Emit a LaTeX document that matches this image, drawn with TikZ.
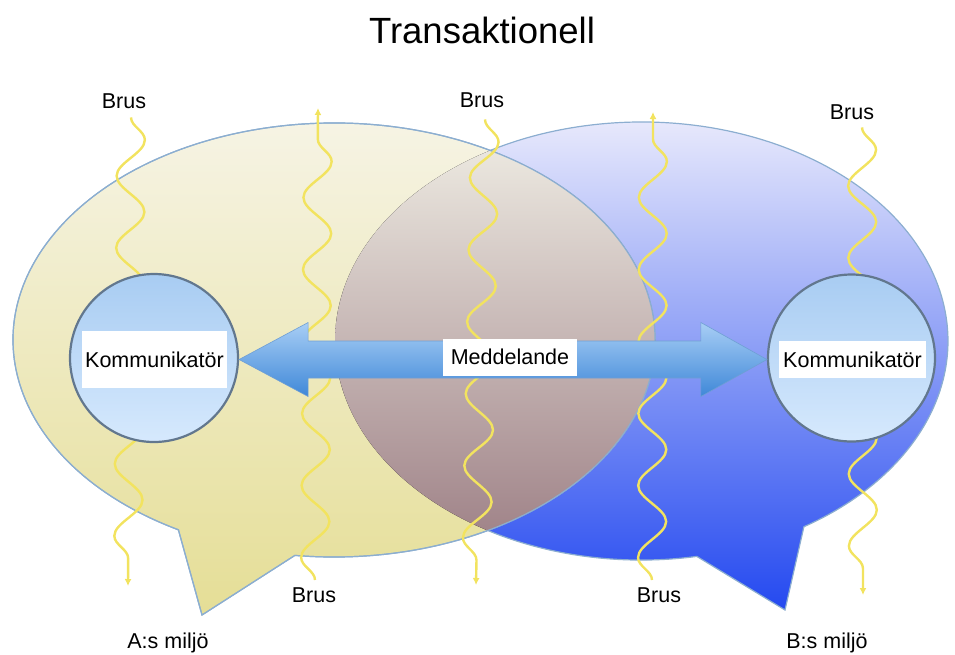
\documentclass[tikz,border=0pt]{standalone}
\usepackage{fontspec}
\setmainfont{Liberation Sans}
\usetikzlibrary{decorations.pathmorphing,arrows.meta,calc}
\definecolor{outl}{HTML}{8CAED0}
\definecolor{la0}{HTML}{F7F5E9}
\definecolor{la1}{HTML}{EFEBC8}
\definecolor{la2}{HTML}{E5DE96}
\definecolor{rb0}{HTML}{EEEEFC}
\definecolor{rb1}{HTML}{9094F2}
\definecolor{rb2}{HTML}{2449F0}
\definecolor{ov0}{HTML}{F0EEE5}
\definecolor{ov1}{HTML}{E2DCCC}
\definecolor{ov2}{HTML}{9C7E84}
\definecolor{ct}{HTML}{A8CCF2}
\definecolor{cb}{HTML}{D6E9FD}
\definecolor{cborder}{HTML}{62778E}
\definecolor{at}{HTML}{A8CEF5}
\definecolor{ab}{HTML}{3F88D8}
\definecolor{aborder}{HTML}{6F9FD4}
\definecolor{noisey}{HTML}{F2E35F}
\begin{document}
\begin{tikzpicture}[x=1pt,y=-1pt,
  bubble/.style={draw=outl, line width=1.2pt},
  noise/.style={draw=noisey, line width=2.4pt, decorate,
    decoration={snake, segment length=72pt, amplitude=14pt, post length=7pt},
    -{Latex[length=7pt,width=7pt]}},
  lbl/.style={font=\fontsize{21.5}{25}\selectfont, inner sep=0pt, anchor=base},
  komm/.style={circle, draw=cborder, line width=2.2pt, top color=ct, bottom color=cb, inner sep=0pt},
  wbox/.style={fill=white, font=\fontsize{21.5}{25}\selectfont, inner sep=0pt},
  msgarrow/.style={draw=aborder, line width=0.6pt, top color=at, bottom color=ab}
]
\useasboundingbox (0,0) rectangle (955,654);

% right bubble (B)
\path[bubble, top color=rb0, middle color=rb1, bottom color=rb2]
  (696.8,556.4) arc[start angle=79.6, end angle=418, x radius=306.5, y radius=219]
  -- (785,610) -- cycle;
% left bubble (A)
\path[bubble, top color=la0, middle color=la1, bottom color=la2]
  (178.4,529.8) arc[start angle=119, end angle=457, x radius=321, y radius=217]
  -- (202,615) -- cycle;
% overlap
\begin{scope}
  \clip (641.5,341) ellipse [x radius=306.5, y radius=219];
  \fill[top color=ov0, middle color=ov1, bottom color=ov2]
    (334,340) ellipse [x radius=321, y radius=217];
\end{scope}
\draw[bubble]
  (178.4,529.8) arc[start angle=119, end angle=457, x radius=321, y radius=217]
  -- (202,615) -- cycle;

% labels
\node[lbl] (b1) at (124,108) {Brus};
\node[lbl] (b3) at (482,107) {Brus};
\node[lbl] (b5) at (852,119) {Brus};
\node[lbl] (b2) at (314,602) {Brus};
\node[lbl] (b4) at (659,602) {Brus};

\coordinate (e1) at (128,586);
\coordinate (t2) at (318,108);
\coordinate (e3) at (476,585);
\coordinate (t4) at (653,112);
\coordinate (e5) at (863,595);

% noise lines
\draw[noise] ($(b1.south)+(7,9)$) -- (e1);
\draw[noise] ($(b2.north)+(1,-7)$) -- (t2);
\draw[noise] ($(b3.south)+(3,12)$) -- (e3);
\draw[noise] ($(b4.north)+(-7,-7)$) -- (t4);
\draw[noise] ($(b5.south)+(10,8)$) -- (e5);

% communicators
\node[komm, minimum size=168pt] (cl) at (154,358) {};
\node[komm, minimum size=167pt] (cr) at (851.5,358) {};
\node[wbox, minimum width=145pt, minimum height=57pt] (kl) at (154.5,359.5) {Kommunikatör};
\node[wbox, minimum width=147pt, minimum height=37pt] (kr) at (852.5,359.5) {Kommunikatör};

% message arrow
\coordinate (AL) at ($(cl.east)+(0,1.5)$);
\coordinate (AR) at ($(cr.west)+(0,1.5)$);
\path[msgarrow] (AL) -- ($(AL)+(69,-37)$) -- ($(AL)+(69,-18.5)$)
  -- ($(AR)+(-66,-18.5)$) -- ($(AR)+(-66,-37)$) -- (AR)
  -- ($(AR)+(-66,37)$) -- ($(AR)+(-66,18.5)$)
  -- ($(AL)+(69,18.5)$) -- ($(AL)+(69,37)$) -- cycle;
\node[wbox, minimum width=134pt, minimum height=37pt] (msg) at (510,357) {Meddelande};

% title and environments
\node[font=\fontsize{36.5}{40}\selectfont, inner sep=0pt, anchor=base] (title) at (482,43) {Transaktionell};
\node[lbl] (ma) at (168,648) {A:s miljö};
\node[lbl] (mb) at (827,648) {B:s miljö};
\end{tikzpicture}
\end{document}
